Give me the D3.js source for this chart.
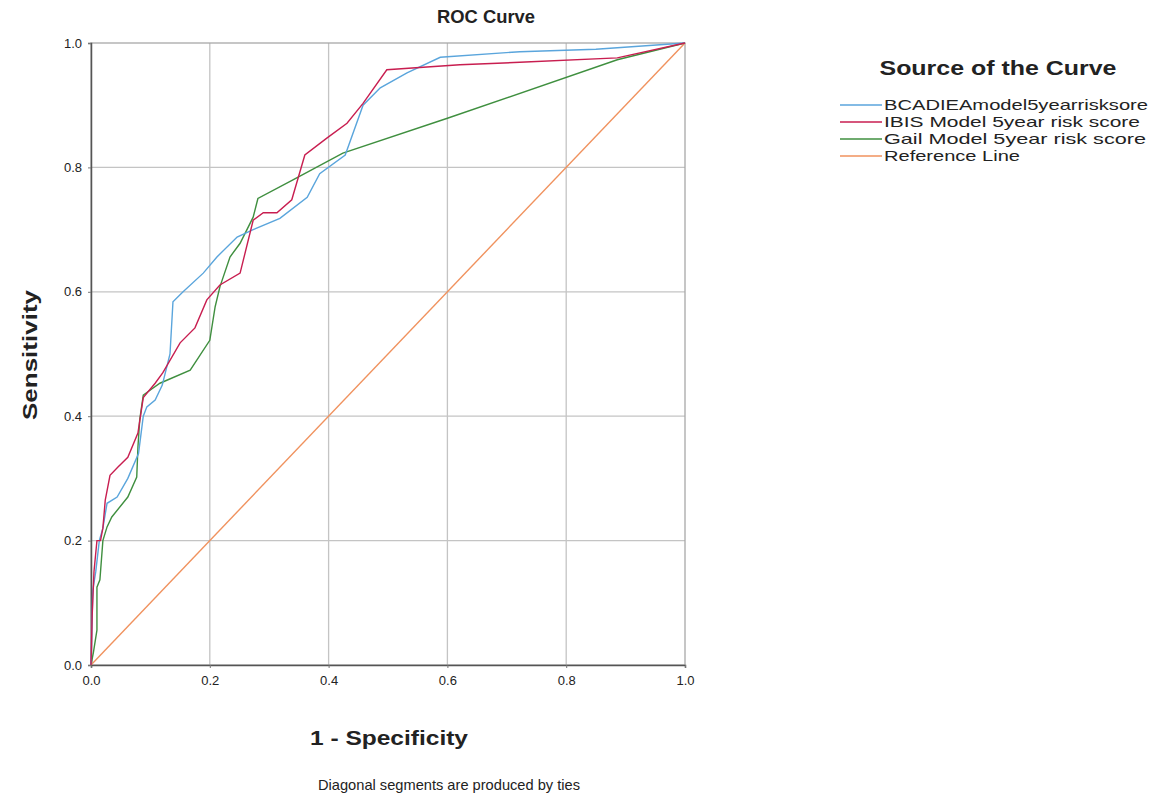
<!DOCTYPE html>
<html>
<head>
<meta charset="utf-8">
<script src="https://cdn.jsdelivr.net/npm/d3@7"></script>
<style>
body{margin:0;background:#fff;}
text{font-family:"Liberation Sans",Arial,sans-serif;fill:#222;}
</style>
</head>
<body>
<div id="roc"></div>
<script>
/* ROC points: [1 - specificity, sensitivity] */
const bcadiea = [[0,0],[0.003,0.12],[0.008,0.15],[0.014,0.2],[0.02,0.22],[0.027,0.26],[0.044,0.27],[0.062,0.30],[0.08,0.34],[0.088,0.40],[0.094,0.415],[0.108,0.426],[0.12,0.45],[0.133,0.50],[0.138,0.584],[0.155,0.60],[0.189,0.63],[0.212,0.656],[0.246,0.688],[0.273,0.70],[0.318,0.718],[0.364,0.752],[0.385,0.79],[0.428,0.82],[0.458,0.90],[0.487,0.928],[0.532,0.952],[0.588,0.977],[0.722,0.986],[0.85,0.99],[1,1]];
const ibis = [[0,0],[0.002,0.08],[0.005,0.15],[0.01,0.2],[0.016,0.2],[0.02,0.22],[0.024,0.265],[0.032,0.305],[0.045,0.318],[0.062,0.334],[0.079,0.373],[0.088,0.43],[0.108,0.453],[0.121,0.47],[0.15,0.518],[0.175,0.542],[0.195,0.587],[0.217,0.611],[0.251,0.63],[0.273,0.715],[0.29,0.727],[0.313,0.727],[0.338,0.748],[0.36,0.82],[0.397,0.847],[0.431,0.871],[0.458,0.903],[0.498,0.957],[0.621,0.965],[0.722,0.969],[0.886,0.976],[1,1]];
const gail = [[0,0],[0.004,0.02],[0.01,0.056],[0.01,0.125],[0.015,0.137],[0.02,0.2],[0.027,0.222],[0.035,0.238],[0.062,0.27],[0.077,0.302],[0.079,0.35],[0.082,0.394],[0.088,0.434],[0.116,0.453],[0.167,0.474],[0.2,0.522],[0.209,0.576],[0.217,0.608],[0.234,0.656],[0.251,0.678],[0.273,0.72],[0.281,0.75],[0.34,0.78],[0.424,0.823],[0.6,0.879],[0.886,0.973],[1,1]];
const refLine = [[0,0],[1,1]];

const seriesNames = ["BCADIEAmodel5yearrisksore","IBIS Model 5year risk score","Gail Model 5year risk score","Reference Line"];
const seriesColors = ["#5aa5dc","#c81e50","#3f8f3f","#f0925e"];
const ticks = [0,0.2,0.4,0.6,0.8,1];

var margin = {top:43,left:91},
w = 594,
h = 622;

var svg = d3.select("#roc").append("svg")
.attr("width",1169).attr("height",801);

var g = svg.append("g").attr("transform",`translate(${margin.left},${margin.top})`);

var xScale = d3.scaleLinear().domain([0,1]).range([0,w]);
var yScale = d3.scaleLinear().domain([0,1]).range([h,0]);

// grid
g.append("g").selectAll("line.gx")
.data(ticks.slice(1,5)).enter().append("line")
.attr("x1",d=>xScale(d)).attr("x2",d=>xScale(d))
.attr("y1",0).attr("y2",h)
.attr("stroke","#c4c4c4").attr("stroke-width",1.3);
g.append("g").selectAll("line.gy")
.data(ticks.slice(1,5)).enter().append("line")
.attr("y1",d=>yScale(d)).attr("y2",d=>yScale(d))
.attr("x1",0).attr("x2",w)
.attr("stroke","#c4c4c4").attr("stroke-width",1.3);

// frame
g.append("rect").attr("width",w).attr("height",h)
.attr("fill","none").attr("stroke","#a8a8a8").attr("stroke-width",1.3);

// axes
var xAxis = g.append("g").attr("transform",`translate(0,${h})`)
.call(d3.axisBottom(xScale).tickValues(ticks).tickFormat(d3.format(".1f")).tickSize(3).tickPadding(8));
var yAxis = g.append("g")
.call(d3.axisLeft(yScale).tickValues(ticks).tickFormat(d3.format(".1f")).tickSize(3).tickPadding(6));
[xAxis,yAxis].forEach(a=>{
  a.select(".domain").attr("stroke","#555").attr("stroke-width",1.5);
  a.selectAll(".tick line").attr("stroke","#777");
  a.selectAll("text").attr("font-size","13").attr("font-family","Liberation Sans, Arial, sans-serif").attr("fill","#333");
});

// curves
var line = d3.line().x(d=>xScale(d[0])).y(d=>yScale(d[1]));
[refLine,gail,bcadiea,ibis].forEach((s)=>{
  var idx = [bcadiea,ibis,gail,refLine].indexOf(s);
  g.append("path").datum(s)
  .attr("d",line)
  .attr("fill","none")
  .attr("stroke",seriesColors[idx])
  .attr("stroke-width",1.4);
});

// titles
svg.append("text").text("ROC Curve")
.attr("x",486).attr("y",23).attr("text-anchor","middle")
.attr("font-size","18").attr("font-weight","bold")
.attr("textLength",98).attr("lengthAdjust","spacingAndGlyphs");
svg.append("text").text("1 - Specificity")
.attr("x",389).attr("y",745).attr("text-anchor","middle")
.attr("font-size","21").attr("font-weight","bold")
.attr("textLength",158).attr("lengthAdjust","spacingAndGlyphs");
svg.append("text").text("Sensitivity")
.attr("transform","translate(37,355)rotate(-90)").attr("text-anchor","middle")
.attr("font-size","21").attr("font-weight","bold")
.attr("textLength",130).attr("lengthAdjust","spacingAndGlyphs");
svg.append("text").text("Diagonal segments are produced by ties")
.attr("x",449).attr("y",790).attr("text-anchor","middle")
.attr("font-size","15")
.attr("textLength",262).attr("lengthAdjust","spacingAndGlyphs");

// legend
var legendWidths = [264,256,262,136];
var leg = svg.append("g").attr("transform","translate(840,0)");
leg.append("text").text("Source of the Curve")
.attr("x",158).attr("y",75).attr("text-anchor","middle")
.attr("font-size","20").attr("font-weight","bold")
.attr("textLength",237).attr("lengthAdjust","spacingAndGlyphs");
seriesNames.forEach((name,i)=>{
  var yy = 105 + i*17;
  leg.append("line").attr("x1",0).attr("x2",42).attr("y1",yy).attr("y2",yy)
  .attr("stroke",seriesColors[i]).attr("stroke-width",1.4);
  leg.append("text").text(name).attr("x",44).attr("y",yy+5)
  .attr("font-size","15").attr("fill","#333")
  .attr("textLength",legendWidths[i]).attr("lengthAdjust","spacingAndGlyphs");
});
</script>
</body>
</html>
